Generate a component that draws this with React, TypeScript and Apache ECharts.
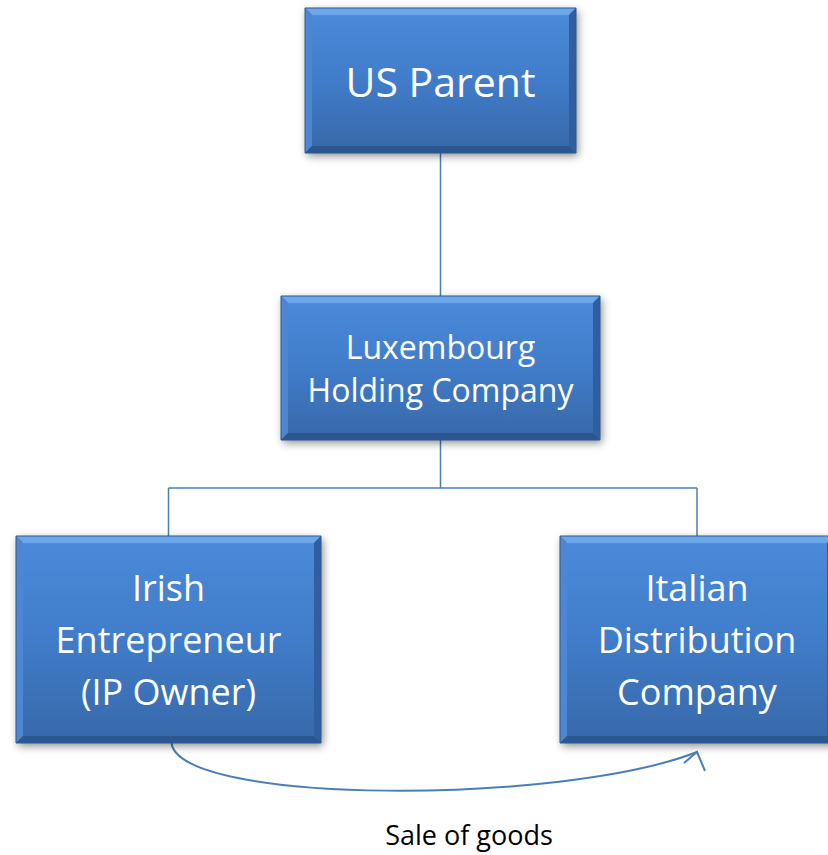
import React, { useEffect, useRef } from "react";
import * as echarts from "echarts";

// Diagram content
const nodeNames: string[] = ["US Parent", "Luxembourg\nHolding Company", "Irish\nEntrepreneur\n(IP Owner)", "Italian\nDistribution\nCompany"];
const nodeLevels: number[] = [0, 1, 2, 2];
const nodeParents: number[] = [-1, 0, 1, 1];
const flowLabel: string[] = ["Sale of goods"];
const flowFromTo: number[][] = [[2, 3]];

// Layout (per node): [x, y, w, h, fontSize, lineHeight]
const layout: number[][] = [
  [305, 8, 271, 145, 41, 46],
  [281, 296, 319, 144, 32, 43],
  [16, 536, 305, 207, 36, 52],
  [560, 536, 274, 207, 36, 52],
];

const LINE = "#4a7ebb";
const FONT = "'Open Sans', sans-serif";

function boxElems(i: number): any[] {
  const [x, y, w, h, fs, lh] = layout[i];
  const b = 7;
  const out: any[] = [];
  out.push({
    type: "rect",
    shape: { x, y, width: w, height: h },
    style: { fill: "#3a6db0", shadowBlur: 8, shadowOffsetX: 2, shadowOffsetY: 3, shadowColor: "rgba(0,0,0,0.45)" },
    z: 2,
  });
  // bevels
  out.push({ type: "polygon", shape: { points: [[x, y], [x + w, y], [x + w - b, y + b], [x + b, y + b]] }, style: { fill: "#6ea6ea" }, z: 3 });
  out.push({ type: "polygon", shape: { points: [[x, y], [x + b, y + b], [x + b, y + h - b], [x, y + h]] }, style: { fill: "#4d87d2" }, z: 3 });
  out.push({ type: "polygon", shape: { points: [[x + w, y], [x + w, y + h], [x + w - b, y + h - b], [x + w - b, y + b]] }, style: { fill: "#2f5f9f" }, z: 3 });
  out.push({ type: "polygon", shape: { points: [[x, y + h], [x + b, y + h - b], [x + w - b, y + h - b], [x + w, y + h]] }, style: { fill: "#2b568f" }, z: 3 });
  out.push({
    type: "rect",
    shape: { x: x + b, y: y + b, width: w - 2 * b, height: h - 2 * b },
    style: {
      fill: new echarts.graphic.LinearGradient(0, 0, 0, 1, [
        { offset: 0, color: "#4a8ad9" },
        { offset: 0.5, color: "#407cc9" },
        { offset: 1, color: "#386aab" },
      ]),
    },
    z: 3,
  });
  out.push({
    type: "rect",
    shape: { x, y, width: w, height: h },
    style: { fill: "none", stroke: "#2d5a92", lineWidth: 1 },
    z: 4,
  });
  out.push({
    type: "text",
    x: x + w / 2,
    y: y + h / 2,
    style: {
      text: nodeNames[i],
      fill: "#ffffff",
      font: `${fs}px ${FONT}`,
      fontSize: fs,
      fontFamily: FONT,
      lineHeight: lh,
      align: "center",
      verticalAlign: "middle",
    },
    z: 5,
  });
  return out;
}

export default function App() {
  const ref = useRef<HTMLDivElement>(null);
  useEffect(() => {
    document.body.style.margin = "0";
    const chart = echarts.init(ref.current!, null, { renderer: "svg" });
    const els: any[] = [];
    nodeNames.forEach((_, i) => els.push(...boxElems(i)));
    // connectors: parent -> children (elbow)
    const levels = Array.from(new Set(nodeLevels));
    levels.forEach((lv) => {
      const kids = nodeNames.map((_, i) => i).filter((i) => nodeLevels[i] === lv && nodeParents[i] >= 0);
      if (!kids.length) return;
      const p = nodeParents[kids[0]];
      const [px, py, pw, ph] = layout[p];
      const pcx = px + pw / 2;
      const pb = py + ph;
      if (kids.length === 1) {
        const [cx, cy, cw] = layout[kids[0]];
        els.push({ type: "line", shape: { x1: pcx, y1: pb, x2: cx + cw / 2, y2: cy }, style: { stroke: LINE, lineWidth: 1.5 }, z: 1 });
      } else {
        const cy0 = layout[kids[0]][1];
        const midY = (pb + cy0) / 2;
        els.push({ type: "line", shape: { x1: pcx, y1: pb, x2: pcx, y2: midY }, style: { stroke: LINE, lineWidth: 1.5 }, z: 1 });
        const xs = kids.map((k) => layout[k][0] + layout[k][2] / 2);
        els.push({ type: "line", shape: { x1: Math.min(...xs), y1: midY, x2: Math.max(...xs), y2: midY }, style: { stroke: LINE, lineWidth: 1.5 }, z: 1 });
        kids.forEach((k, j) => {
          els.push({ type: "line", shape: { x1: xs[j], y1: midY, x2: xs[j], y2: layout[k][1] }, style: { stroke: LINE, lineWidth: 1.5 }, z: 1 });
        });
      }
    });
    // flow arrow
    flowFromTo.forEach(([a, b], k) => {
      const [ax, ay, aw, ah] = layout[a];
      const [bx, by, bw, bh] = layout[b];
      const sx = ax + aw / 2 + 3, sy = ay + ah;
      const ex = bx + bw / 2, ey = by + bh + 9;
      els.push({
        type: "bezierCurve",
        shape: { x1: sx, y1: sy, cpx1: sx + 8, cpy1: sy + 62, cpx2: ex - 135, cpy2: sy + 62, x2: ex, y2: ey },
        style: { stroke: LINE, lineWidth: 2, fill: "none" },
        z: 1,
      });
      els.push({
        type: "polyline",
        shape: { points: [[ex - 13, ey + 11], [ex, ey], [ex + 8, ey + 19]] },
        style: { stroke: LINE, lineWidth: 2, fill: "none" },
        z: 1,
      });
      els.push({
        type: "text",
        x: 469,
        y: 834,
        style: { text: flowLabel[k], fill: "#000000", font: `27px ${FONT}`, fontSize: 27, fontFamily: FONT, align: "center", verticalAlign: "middle" },
        z: 5,
      });
    });
    chart.setOption({ animation: false, backgroundColor: "#ffffff", graphic: { elements: els } });
    return () => chart.dispose();
  }, []);
  return <div ref={ref} style={{ position: "absolute", left: 0, top: 0, width: 828, height: 855 }} />;
}
